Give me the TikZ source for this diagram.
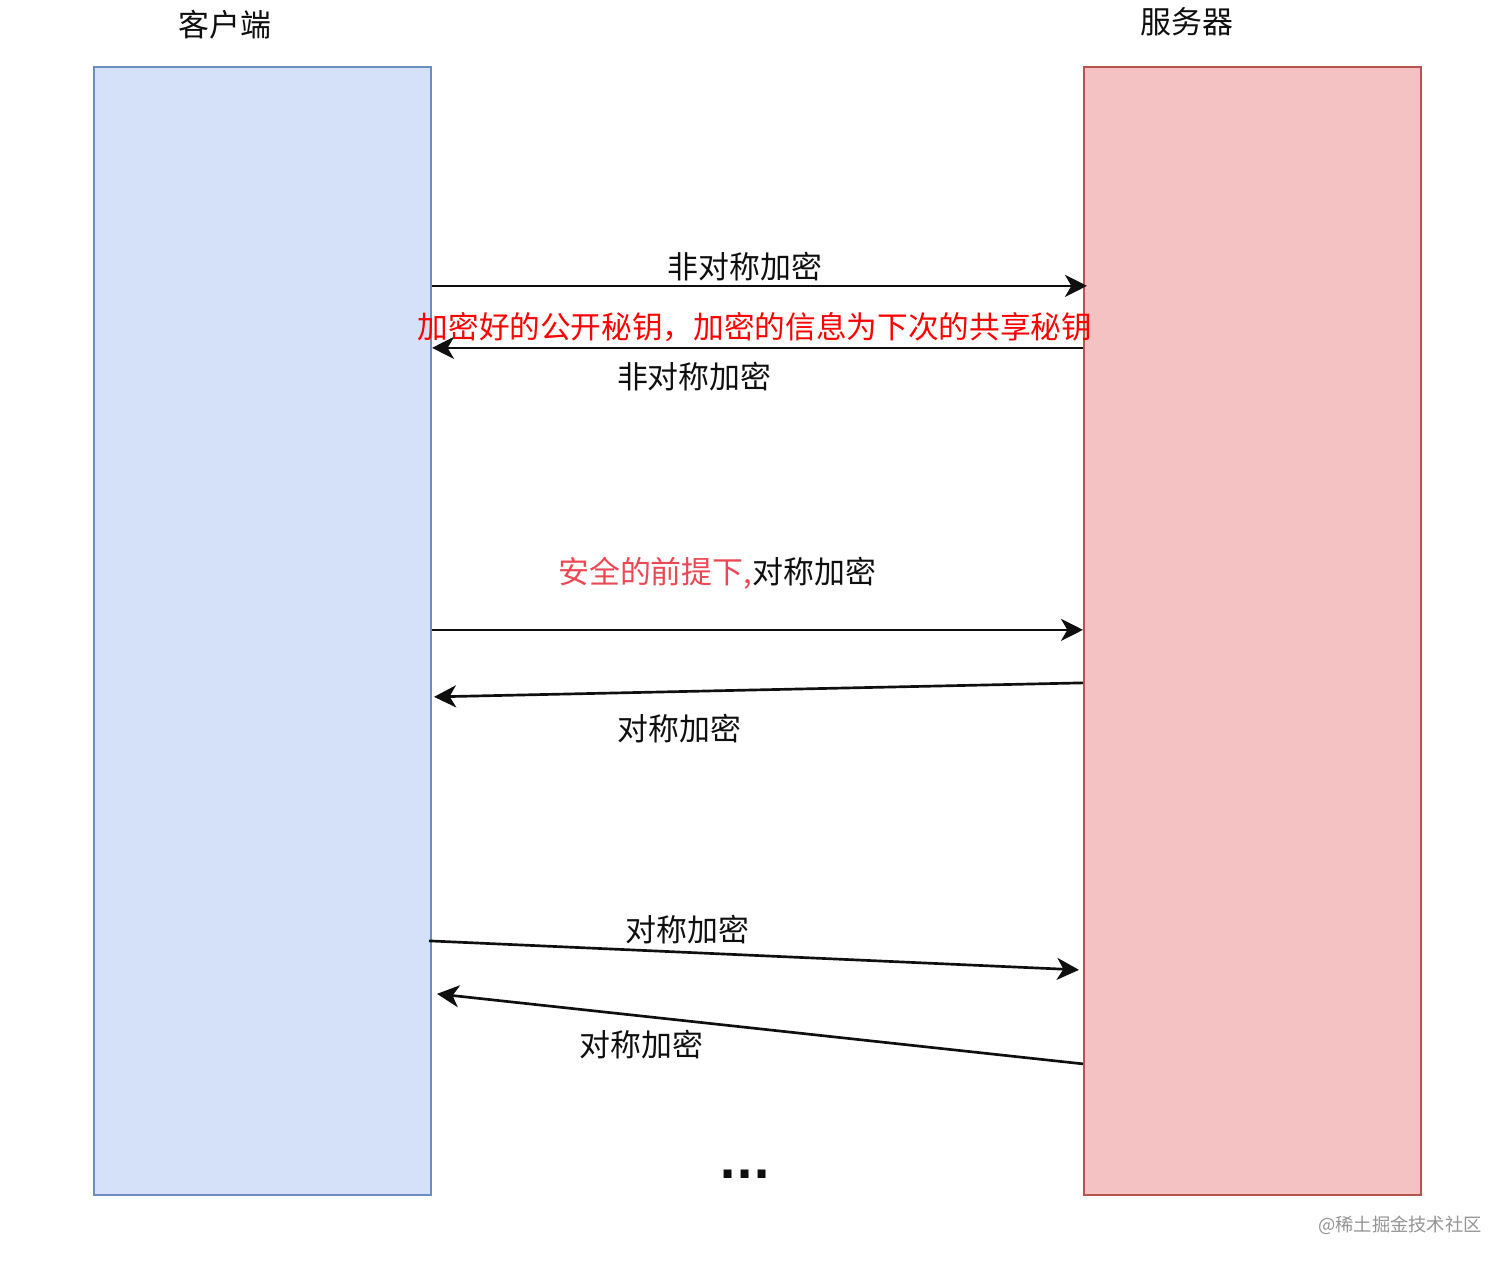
\documentclass[tikz,border=0pt]{standalone}
\usepackage{fontspec}
\setmainfont{Noto Sans CJK SC}
\newfontfamily\pikice{DejaVu Sans}
\usetikzlibrary{arrows.meta,calc}
\definecolor{modroPolnilo}{RGB}{212,225,248}
\definecolor{modraCrta}{RGB}{108,142,191}
\definecolor{rdecePolnilo}{RGB}{244,194,194}
\definecolor{rdecaCrta}{RGB}{184,84,80}
\definecolor{rdecaSvetla}{RGB}{236,72,84}
\definecolor{crnilo}{RGB}{15,15,15}
\tikzset{
	diagram/.style={x=0.025cm, y=-0.025cm, font=\fontsize{22}{26}\selectfont, text=crnilo,
	                >={Stealth[length=5.5mm,width=5.5mm,inset=1.6mm]}},
	stran/.style={draw, line width=1.4pt, minimum width=8.425cm, minimum height=28.2cm, inner sep=0pt},
	tok/.style={->, line width=1.9pt, crnilo},
	oznaka/.style={inner sep=2pt},
	naslov/.style={font=\fontsize{22}{26}\selectfont, inner sep=2pt},
}

\begin{document}
\begin{tikzpicture}[diagram]
\useasboundingbox (0,0) rectangle (1512,1267);

% ---------- strani ----------
\node[stran, draw=modraCrta, fill=modroPolnilo] (odjemalec) at (262.5,631) {};
\node[stran, draw=rdecaCrta, fill=rdecePolnilo] (streznik) at (1252.5,631) {};
\node[naslov] (nodjemalec) at (225,25) {客户端};
\node[naslov] (nstreznik) at (1187,22) {服务器};

% ---------- sporocila ----------
\draw[tok] ($(odjemalec.north east)+(0,220)$) -- node[oznaka, above=0.3mm, pos=0.478] {非对称加密}
    ($(streznik.north west)+(4,220)$);
\draw[tok] ($(streznik.north west)+(0,282)$) --
    node[oznaka, above=0.5mm, pos=0.504, text=red, font=\fontsize{21.8}{26}\selectfont]
    {加密好的公开秘钥，加密的信息为下次的共享秘钥}
    node[oznaka, below=2.5mm, pos=0.597] {非对称加密} ($(odjemalec.north east)+(0,282)$);

\draw[tok] ($(odjemalec.north east)+(0,564)$) --
    node[oznaka, above=9mm, pos=0.438] {{\color{rdecaSvetla}安全的前提下,}对称加密}
    ($(streznik.north west)+(0,564)$);
\draw[tok] ($(streznik.north west)+(0,617)$) -- node[oznaka, below=4.5mm, pos=0.622] {对称加密}
    ($(odjemalec.north east)+(2,631)$);

\draw[tok] ($(odjemalec.north east)+(-3,875)$) -- node[oznaka, above=1mm, pos=0.397] {对称加密}
    ($(streznik.north west)+(-4,904)$);
\draw[tok] ($(streznik.north west)+(0,998)$) -- node[oznaka, below=2.5mm, pos=0.684] {对称加密}
    ($(odjemalec.north east)+(5,928)$);

\node[inner sep=0pt, font=\pikice\bfseries\fontsize{32}{36}\selectfont] (nadaljevanje) at (745,1174) {...};
\node[inner sep=0pt, text=black!42, font=\fontsize{13}{15}\selectfont] (vir) at (1400,1225) {@稀土掘金技术社区};

\end{tikzpicture}
\end{document}
